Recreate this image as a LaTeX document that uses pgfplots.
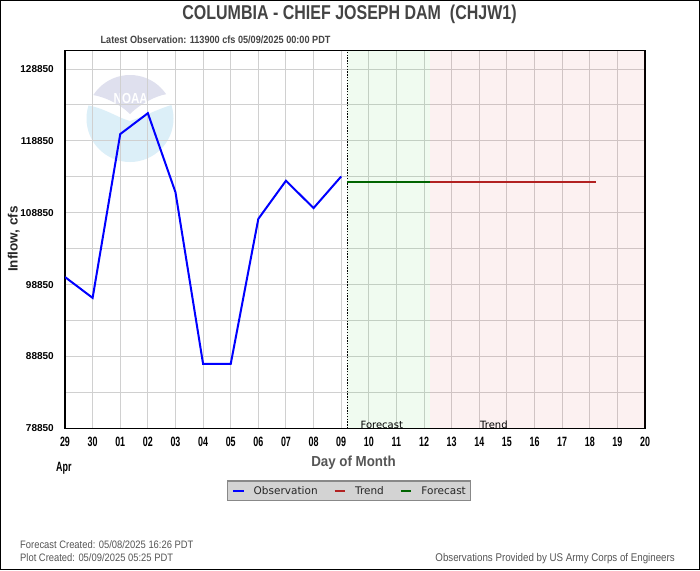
\documentclass[border=0pt]{standalone}
\usepackage{pgfplots}
\pgfplotsset{compat=1.18}
\usepackage{fontspec}
\setmainfont{Liberation Sans}
\newfontfamily\nar[FakeStretch=0.8]{Liberation Sans}
\newfontfamily\narm[FakeStretch=0.87]{Liberation Sans}
\newfontfamily\nars[FakeStretch=0.92]{Liberation Sans}
\newfontfamily\narx[FakeStretch=0.66]{Liberation Sans}
\newfontfamily\djv{DejaVu Sans}
\definecolor{txtgray}{HTML}{444444}
\definecolor{txtgray2}{HTML}{555555}
\definecolor{obsblue}{HTML}{0000FF}
\definecolor{fcgreen}{HTML}{006400}
\definecolor{trred}{HTML}{B22222}
\definecolor{greenbg}{RGB}{0,200,0}
\definecolor{pinkbg}{RGB}{220,20,20}
\definecolor{gridgray}{HTML}{D0D0D0}
\definecolor{legfill}{HTML}{D3D3D3}
\definecolor{legdraw}{HTML}{888888}
\definecolor{logoblue}{HTML}{DCEFF8}
\definecolor{logolav}{HTML}{DFE0EE}
\begin{document}
\begin{tikzpicture}
\fill[white] (0,0) rectangle (700pt,-570pt);
% NOAA watermark
\begin{scope}
\clip (130pt,-118.5pt) circle (43.5pt);
\fill[white] (130pt,-118.5pt) circle (43.5pt);
\fill[logoblue] (80pt,-170pt) -- (80pt,-105pt) -- (86pt,-105pt) .. controls (105pt,-108pt) and (118pt,-118pt) .. (130pt,-121pt) .. controls (145pt,-116pt) and (160pt,-108pt) .. (175pt,-104pt) -- (180pt,-104pt) -- (180pt,-170pt) -- cycle;
\fill[logolav] (80pt,-60pt) -- (80pt,-93pt) -- (93pt,-95pt) .. controls (105pt,-97pt) and (120pt,-104pt) .. (130pt,-114pt) .. controls (140pt,-104pt) and (155pt,-96pt) .. (167pt,-94pt) -- (180pt,-92pt) -- (180pt,-60pt) -- cycle;
\end{scope}
\node[white, font=\nar\bfseries\fontsize{14.5}{14.5}\selectfont, anchor=base, inner sep=0pt] at (130.7pt,-103.7pt) {NOAA};

\begin{axis}[
  at={(65pt,-428.3pt)}, anchor=south west, scale only axis,
  width=580pt, height=377.6pt,
  xmin=0, xmax=21, ymin=78850, ymax=131400,
  xtick={0,...,21},
  xticklabels={29,30,01,02,03,04,05,06,07,08,09,10,11,12,13,14,15,16,17,18,19,20},
  ytick={78850,88850,98850,108850,118850,128850},
  yticklabels={78850,88850,98850,108850,118850,128850},
  scaled y ticks=false,
  minor ytick={83850,93850,103850,113850,123850},
  grid=both,
  major grid style={draw=gridgray, line width=1pt},
  minor grid style={draw=gridgray, line width=1pt},
  major tick length=0pt, minor tick length=0pt,
  axis line style={line width=1.5pt, black},
  xticklabel style={font=\narx\bfseries\fontsize{13.5}{13.5}\selectfont, inner sep=0pt, anchor=north, yshift=-9pt},
  yticklabel style={font=\bfseries\fontsize{10}{10}\selectfont, inner sep=0pt, anchor=east, xshift=-11pt},
  legend columns=3,
  legend image code/.code={\draw[#1, line width=2pt] (0pt,3.8pt) -- (10.5pt,3.8pt);},
  legend style={at={(0.4897,-0.1658)}, anchor=center, draw=legdraw, line width=1.2pt, fill=legfill,
    inner xsep=5pt, inner ysep=6pt,
    font=\djv\fontsize{10.5}{12}\selectfont, text=black!85,
    nodes={inner sep=0pt, text height=7.8pt, text depth=0pt, anchor=base},
    /tikz/every odd column/.append style={column sep=9pt},
    /tikz/every even column/.append style={column sep=16pt}},
  legend cell align=left,
]
% forecast / trend shaded regions
\addplot[fill=greenbg, fill opacity=0.06, draw=none, forget plot]
  coordinates {(10.22,78850) (13.22,78850) (13.22,131400) (10.22,131400)} -- cycle;
\addplot[fill=pinkbg, fill opacity=0.06, draw=none, forget plot]
  coordinates {(13.22,78850) (21,78850) (21,131400) (13.22,131400)} -- cycle;
\node[anchor=base, font=\djv\fontsize{10}{10}\selectfont, inner sep=0pt] at (axis cs:11.47,78850) {Forecast};
\node[anchor=base, font=\djv\fontsize{10}{10}\selectfont, inner sep=0pt] at (axis cs:15.53,78850) {Trend};
% now marker (dotted line)
\addplot[black, dash pattern=on 1.4pt off 1.4pt, line width=1.5pt, forget plot] coordinates {(10.22,78850) (10.22,131400)};
% observation
\addplot[obsblue, line width=2pt] coordinates {
  (0,99900) (1,97000) (2,119800) (3,122700) (4,111700) (5,87800)
  (6,87800) (7,108000) (8,113300) (9,109500) (10,113900)};
\addlegendentry{Observation}
% trend
\addplot[trred, line width=2pt] coordinates {(13.22,113100) (19.22,113100)};
\addlegendentry{Trend}
% forecast
\addplot[fcgreen, line width=2pt] coordinates {(10.22,113100) (13.22,113100)};
\addlegendentry{Forecast}
\end{axis}

% titles and labels
\node[anchor=base, text=txtgray, font=\nar\bfseries\fontsize{20}{20}\selectfont, inner sep=0pt] at (349.5pt,-19.5pt) {COLUMBIA - CHIEF JOSEPH DAM\ \ (CHJW1)};
\node[anchor=base west, text=txtgray, font=\narm\bfseries\fontsize{10.5}{10.5}\selectfont, inner sep=0pt] at (100.4pt,-43.5pt) {Latest Observation: 113900 cfs 05/09/2025 00:00 PDT};
\node[rotate=90, anchor=base, text=black!85, font=\bfseries\fontsize{13.5}{14}\selectfont, inner sep=0pt] at (17.5pt,-239pt) {Inflow, cfs};
\node[anchor=base, text=txtgray2, font=\nars\bfseries\fontsize{14.5}{14.5}\selectfont, inner sep=0pt] at (353.5pt,-466pt) {Day of Month};
\node[anchor=base west, font=\narx\bfseries\fontsize{13.5}{13.5}\selectfont, inner sep=0pt] at (56pt,-471pt) {Apr};
\node[anchor=base west, text=txtgray2, font=\narm\fontsize{10.8}{11}\selectfont, inner sep=0pt] at (20pt,-548pt) {Forecast Created: 05/08/2025 16:26 PDT};
\node[anchor=base west, text=txtgray2, font=\narm\fontsize{10.8}{11}\selectfont, inner sep=0pt] at (20pt,-561pt) {Plot Created: 05/09/2025 05:25 PDT};
\node[anchor=base east, text=txtgray2, font=\narm\fontsize{11.2}{11}\selectfont, inner sep=0pt] at (675pt,-561pt) {Observations Provided by US Army Corps of Engineers};
\draw[black, line width=1.2pt] (0.6pt,-0.6pt) rectangle (699.4pt,-569.4pt);
\end{tikzpicture}
\end{document}
